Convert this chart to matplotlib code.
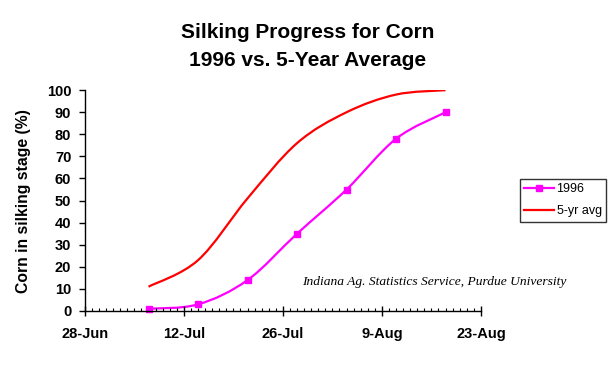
import datetime as dt
import numpy as np
import matplotlib
matplotlib.use("Agg")
import matplotlib.pyplot as plt
import matplotlib.dates as mdates
from matplotlib.path import Path
from matplotlib.patches import PathPatch
from matplotlib.lines import Line2D

# ---- data ----
dates = ["1996-07-07", "1996-07-14", "1996-07-21", "1996-07-28",
         "1996-08-04", "1996-08-11", "1996-08-18"]
pct_1996 = [1, 3, 14, 35, 55, 78, 90]
pct_5yr = [11, 23, 51, 76, 90, 98, 100]
x_start, x_end = "1996-06-28", "1996-08-23"
y_ticks = list(range(0, 101, 10))

plt.rcParams["font.family"] = ["Liberation Sans", "DejaVu Sans"]

fig = plt.figure(figsize=(6.15, 3.65), dpi=100)
ax = fig.add_axes([0.138, 0.148, 0.644, 0.605])

xd = mdates.date2num([dt.datetime.fromisoformat(d) for d in dates])


def smooth_path(x, y):
    """Excel-style smoothed line: cubic Bezier through points (Catmull-Rom)."""
    pts = np.column_stack([x, y]).astype(float)
    n = len(pts)
    verts = [pts[0]]
    codes = [Path.MOVETO]
    for i in range(n - 1):
        p0 = pts[i - 1] if i > 0 else pts[i]
        p1 = pts[i]
        p2 = pts[i + 1]
        p3 = pts[i + 2] if i + 2 < n else pts[i + 1]
        c1 = p1 + (p2 - p0) / 6.0
        c2 = p2 - (p3 - p1) / 6.0
        verts += [c1, c2, p2]
        codes += [Path.CURVE4] * 3
    return Path(verts, codes)


ax.add_patch(PathPatch(smooth_path(xd, pct_5yr), fill=False,
                       edgecolor="#FF0000", lw=1.6, capstyle="butt"))
ax.add_patch(PathPatch(smooth_path(xd, pct_1996), fill=False,
                       edgecolor="#FF00FF", lw=1.6, capstyle="butt"))
ax.plot(xd, pct_1996, linestyle="none", marker="s", ms=4.5,
        color="#FF00FF", clip_on=False)

t0 = dt.datetime.fromisoformat(x_start)
ax.set_xlim(mdates.date2num(t0),
            mdates.date2num(dt.datetime.fromisoformat(x_end)))
ax.set_ylim(0, 100)

ax.set_xticks(mdates.date2num([t0 + dt.timedelta(days=14 * k) for k in range(5)]))
ax.xaxis.set_major_formatter(mdates.DateFormatter("%-d-%b"))
ax.xaxis.set_minor_locator(mdates.DayLocator())
ax.set_yticks(y_ticks)

for s in ("top", "right"):
    ax.spines[s].set_visible(False)
for s in ("left", "bottom"):
    ax.spines[s].set_linewidth(1.0)
    ax.spines[s].set_color("black")

ax.tick_params(axis="x", which="major", direction="inout", length=7.2, width=1,
               labelsize=10.5, pad=8.0)
ax.tick_params(axis="x", which="minor", direction="in", length=2.2, width=0.8)
ax.tick_params(axis="y", which="major", direction="out", length=4.3, width=1,
               labelsize=10.5, pad=5.5)
for lbl in ax.get_xticklabels() + ax.get_yticklabels():
    lbl.set_fontweight("bold")

ax.set_ylabel("Corn in silking stage (%)", fontsize=11.3, fontweight="bold")
ax.yaxis.set_label_coords(-0.136, 0.5)

fig.text(0.5, 1 - 33 / 365, "Silking Progress for Corn",
         ha="center", va="center", fontsize=15, fontweight="bold")
fig.text(0.5, 1 - 60 / 365, "1996 vs. 5-Year Average",
         ha="center", va="center", fontsize=15, fontweight="bold")

ax.text(0.548, 0.13, "Indiana Ag. Statistics Service, Purdue University",
        transform=ax.transAxes, fontsize=9.7, style="italic",
        family=["Liberation Serif", "DejaVu Serif"], clip_on=False,
        ha="left", va="center")

handles = [Line2D([], [], color="#FF00FF", lw=1.6, marker="s", ms=4.5),
           Line2D([], [], color="#FF0000", lw=1.6)]
leg = fig.legend(handles, ["1996", "5-yr avg"], loc="upper left",
                 bbox_to_anchor=(0.845, 1 - 179 / 365), fontsize=9,
                 frameon=True, fancybox=False, edgecolor="black",
                 handlelength=2.4, handletextpad=0.2, borderpad=0.35,
                 labelspacing=0.8, borderaxespad=0)
leg.get_frame().set_linewidth(1.0)

fig.savefig("out.png", dpi=100)
